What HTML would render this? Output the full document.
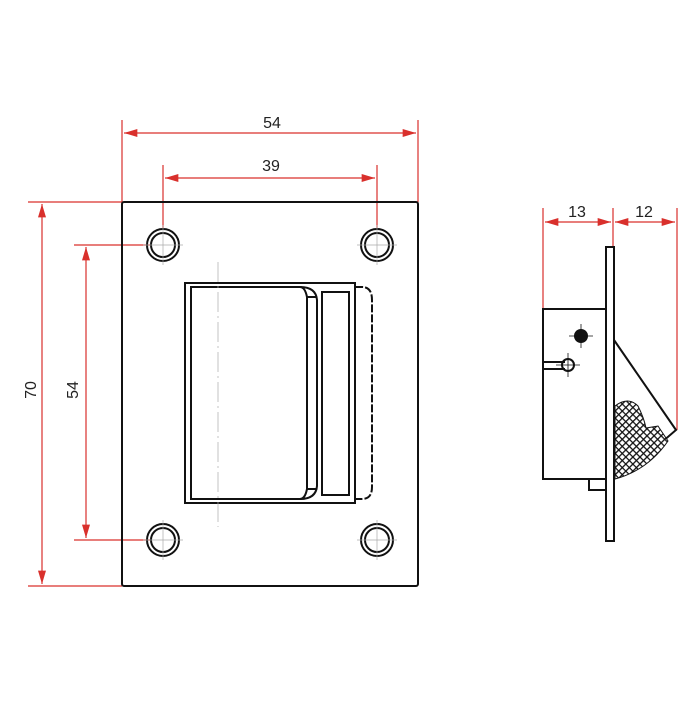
<!DOCTYPE html><html><head><style>body{margin:0;background:#fff}</style></head><body>
<svg width="700" height="700" viewBox="0 0 700 700" xmlns="http://www.w3.org/2000/svg" font-family="Liberation Sans, sans-serif">
<defs>
<marker id="a" viewBox="0 0 10 6" refX="10" refY="3" markerWidth="14" markerHeight="8" orient="auto-start-reverse" markerUnits="userSpaceOnUse"><path d="M0 0L10 3L0 6z" fill="#d9302c"/></marker>
<pattern id="h" width="5" height="5" patternUnits="userSpaceOnUse" patternTransform="rotate(45)"><rect width="5" height="5" fill="#fff"/><path d="M0 0H5M0 0V5" stroke="#111" stroke-width="2.6"/></pattern>
</defs>
<g stroke="#d9302c" stroke-width="1.2" fill="none">
<path d="M122 120V202M418 120V202M163 165V230M377 165V230M28 202H122M28 586H122M74 245H150M74 540H150M543 208V309M613 208V247M677 208V430"/>
<g marker-start="url(#a)" marker-end="url(#a)">
<path d="M124 133H416"/><path d="M165 178H375"/><path d="M42 204V584"/><path d="M86 247V538"/><path d="M545 222H611"/><path d="M615 222H675"/>
</g>
</g>
<g fill="#222" font-size="16" text-anchor="middle">
<text x="272" y="128">54</text><text x="271" y="171">39</text>
<text transform="translate(36 390) rotate(-90)">70</text>
<text transform="translate(78 390) rotate(-90)">54</text>
<text x="577" y="217">13</text><text x="644" y="217">12</text>
</g>
<g stroke="#111" fill="none" stroke-width="2">
<rect x="122" y="202" width="296" height="384" rx="2"/>
<circle cx="163" cy="245" r="16"/><circle cx="163" cy="245" r="12"/>
<circle cx="377" cy="245" r="16"/><circle cx="377" cy="245" r="12"/>
<circle cx="163" cy="540" r="16"/><circle cx="163" cy="540" r="12"/>
<circle cx="377" cy="540" r="16"/><circle cx="377" cy="540" r="12"/>
<rect x="185" y="283" width="170" height="220"/>
<path d="M191 287H300Q305 287 307 297V489Q305 499 300 499H191Z"/>
<path d="M300 287Q316 287 317 300V486Q316 499 300 499M307 297H317M307 489H317"/>
<rect x="322" y="292" width="27" height="203"/>
<path d="M355 287H362Q372 287 372 300V487Q372 499 362 499H355" stroke-dasharray="8 2"/>
<rect x="606" y="247" width="8" height="294"/>
<rect x="543" y="309" width="63" height="170"/>
<path d="M589 479V490H606"/>
<circle cx="568" cy="365" r="6"/>
<path d="M543 362H565M543 369H565"/>
<path d="M614 340L676 430L662 442"/>
</g>
<circle cx="581" cy="336" r="7" fill="#111"/>
<path d="M615 406Q628 396 638 406Q644 418 646 428L658 426L668 441Q648 470 615 479Z" fill="url(#h)" stroke="#111"/>
<g stroke="#111" stroke-width="0.8"><path d="M581 324V348M569 336H593M568 353V377M556 365H580"/></g>
<g stroke="#aaa" stroke-width="0.7"><path d="M163 225V265M143 245H183M377 225V265M357 245H397M163 520V560M143 540H183M377 520V560M357 540H397"/><path d="M218 262V527" stroke-dasharray="20 4 2 4"/></g>
</svg></body></html>
